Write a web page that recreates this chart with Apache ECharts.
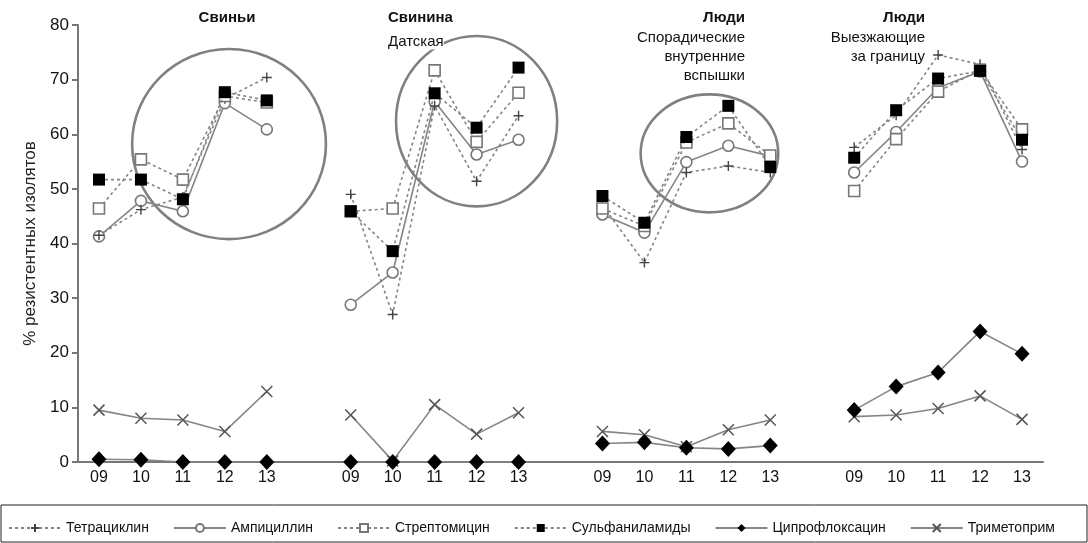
<!DOCTYPE html>
<html><head><meta charset="utf-8">
<script src="https://cdn.jsdelivr.net/npm/echarts@6/dist/echarts.min.js"></script>
<style>html,body{margin:0;padding:0;background:#fff}#c{width:1088px;height:543px}</style>
</head><body><div id="c"></div>
<script>
// ---- data ----
const years = ['09','10','11','12','13'];
const groupNames = ['Свиньи','Свинина Датская','Люди Спорадические внутренние вспышки','Люди Выезжающие за границу'];
const yTicks = [0,10,20,30,40,50,60,70,80];
const tetracycline = [[41.5,46.2,48.5,66.5,70.4],[49.0,27.0,65.2,51.4,63.4],[47.0,36.5,53.0,54.2,53.0],[57.6,63.5,74.5,72.8,57.2]];
const ampicillin   = [[41.3,47.8,45.9,65.7,60.9],[28.8,34.7,66.0,56.3,59.0],[45.3,42.0,54.9,57.9,56.0],[53.0,60.4,68.5,71.5,55.0]];
const streptomycin = [[46.4,55.4,51.7,67.0,65.8],[45.9,46.4,71.7,58.6,67.6],[46.4,43.2,58.5,62.0,56.1],[49.6,59.1,67.8,71.8,60.9]];
const sulfonamides = [[51.7,51.7,48.1,67.7,66.2],[45.9,38.6,67.5,61.2,72.2],[48.7,43.8,59.5,65.2,54.0],[55.7,64.4,70.2,71.6,59.0]];
const ciprofloxacin= [[0.5,0.4,0,0,0],[0,0,0,0,0],[3.4,3.6,2.6,2.4,3.0],[9.5,13.8,16.4,23.9,19.8]];
const trimethoprim = [[9.5,8.0,7.7,5.6,12.9],[8.6,0.2,10.5,5.1,9.0],[5.6,5.0,2.8,5.9,7.7],[8.3,8.6,9.8,12.1,7.8]];
// annotation ellipses in data units (category index, value)
const ellipses = [
  {cx:3.1, cy:58.2, rx:2.31, ry:17.4},
  {cx:9.0, cy:62.4, rx:1.92, ry:15.6},
  {cx:14.55, cy:56.5, rx:1.64, ry:10.8}
];

// ---- build ----
const cats = [];
years.forEach(y=>cats.push(y)); cats.push('');
years.forEach(y=>cats.push(y+' ')); cats.push(' ');
years.forEach(y=>cats.push(y+'  ')); cats.push('  ');
years.forEach(y=>cats.push(y+'   '));
function flat(arr){const out=[];arr.forEach((g,i)=>{g.forEach(v=>out.push(v)); if(i<arr.length-1) out.push(null);});return out;}

const gray='#858585';
const plusPath='path://M5,0L5,10M0,5L10,5';
const crossPath='path://M0,0L10,10M10,0L0,10';
function mk(name,data,opt){
  return {name,type:'line',data:flat(data),connectNulls:false,
    lineStyle:{color:gray,width:1.6,type:opt.dash?[3,3]:'solid'},
    symbol:opt.symbol,symbolSize:opt.size,
    itemStyle:{color:opt.fill,borderColor:opt.border,borderWidth:opt.bw},
    emphasis:{disabled:true}, z:opt.z||2};
}
const series=[
  mk('Триметоприм',trimethoprim,{symbol:crossPath,size:11,fill:'rgba(0,0,0,0)',border:'#555',bw:1.5}),
  mk('Ципрофлоксацин',ciprofloxacin,{symbol:'diamond',size:[15,16],fill:'#000',border:'#000',bw:0}),
  mk('Ампициллин',ampicillin,{symbol:'circle',size:11,fill:'#fff',border:'#777',bw:1.6}),
  mk('Тетрациклин',tetracycline,{dash:true,symbol:plusPath,size:10,fill:'rgba(0,0,0,0)',border:'#444',bw:1.4}),
  mk('Стрептомицин',streptomycin,{dash:true,symbol:'rect',size:11,fill:'#fff',border:'#777',bw:1.6}),
  mk('Сульфаниламиды',sulfonamides,{dash:true,symbol:'rect',size:12,fill:'#000',border:'#000',bw:0,z:3})
];

const chart=echarts.init(document.getElementById('c'));
const font='"Liberation Sans", Arial, sans-serif';
chart.setOption({
  animation:false,
  textStyle:{fontFamily:font},
  grid:{left:78,right:45,top:25,bottom:81},
  xAxis:{type:'category',data:cats,boundaryGap:true,
    axisLine:{lineStyle:{color:'#777',width:2}},
    axisTick:{interval:0,length:4,lineStyle:{color:'#777',width:2}},
    axisLabel:{interval:0,color:'#111',fontSize:16,margin:8,formatter:v=>v.trim()}},
  yAxis:{type:'value',min:0,max:80,interval:10,
    name:'% резистентных изолятов',nameLocation:'middle',nameGap:37,nameRotate:90,
    nameTextStyle:{fontSize:17,color:'#222'},
    axisLine:{show:true,lineStyle:{color:'#777',width:2}},
    axisTick:{show:true,length:6,lineStyle:{color:'#777',width:2}},
    splitLine:{show:false},
    axisLabel:{color:'#111',fontSize:17,margin:9,formatter:v=>yTicks.includes(v)?String(v):''}},
  legend:{left:8,top:521,width:1080,padding:0,itemWidth:52,itemHeight:10,itemGap:24,
    data:['Тетрациклин','Ампициллин','Стрептомицин','Сульфаниламиды','Ципрофлоксацин','Триметоприм'],
    textStyle:{fontSize:14,color:'#111',fontFamily:font}},
  series
});

function px(ci,v){
  const a=chart.convertToPixel({xAxisIndex:0,yAxisIndex:0},[0,0]);
  const b=chart.convertToPixel({xAxisIndex:0,yAxisIndex:0},[1,10]);
  return [a[0]+(b[0]-a[0])*ci, a[1]+(b[1]-a[1])*v/10];
}
const g=[];
ellipses.forEach(e=>{
  const c=px(e.cx,e.cy), r=px(e.cx+e.rx,e.cy+e.ry);
  g.push({type:'ellipse',z:1,shape:{cx:c[0],cy:c[1],rx:Math.abs(r[0]-c[0]),ry:Math.abs(r[1]-c[1])},
    style:{fill:'none',stroke:'#808080',lineWidth:2.6}});
});
function txt(x,y,s,bold,align){
  g.push({type:'text',z:10,x,y,style:{text:s,fontFamily:font,fontSize:15,fontWeight:bold?'bold':'normal',
    fill:'#111',align:align||'left',verticalAlign:'middle',backgroundColor:'#fff'}});
}
txt(227,18,'Свиньи',true,'center');
txt(388,18,'Свинина',true);
txt(388,42,'Датская',false);
txt(745,18,'Люди',true,'right');
txt(745,38,'Спорадические',false,'right');
txt(745,57,'внутренние',false,'right');
txt(745,76,'вспышки',false,'right');
txt(925,18,'Люди',true,'right');
txt(925,38,'Выезжающие',false,'right');
txt(925,57,'за границу',false,'right');
g.push({type:'rect',z:0,shape:{x:1,y:505,width:1086,height:37},style:{fill:'none',stroke:'#222',lineWidth:1}});
chart.setOption({graphic:g});
</script></body></html>
